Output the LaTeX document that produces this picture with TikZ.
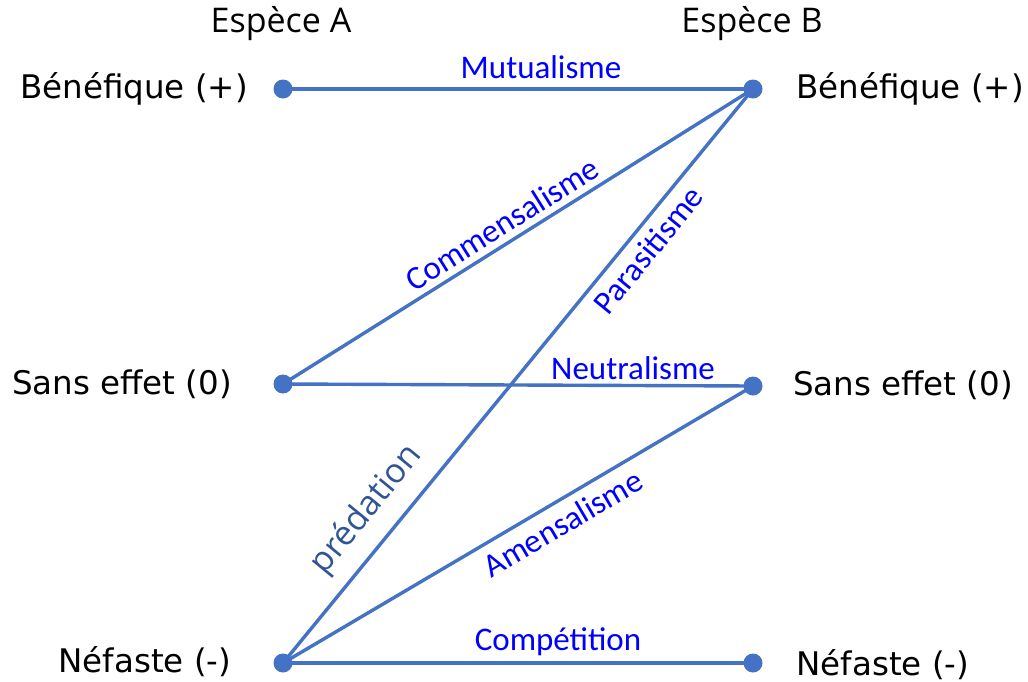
\documentclass[tikz,border=0pt]{standalone}
\usepackage{fontspec}
\newfontfamily\lblfont{DejaVu Sans}
\newfontfamily\relfont{Carlito}
\newfontfamily\headfont{Open Sans}
\definecolor{linec}{HTML}{4472C4}
\definecolor{predc}{HTML}{2F5597}
\tikzset{
  dot/.style={circle,fill=linec,inner sep=0pt,minimum size=19pt},
  rel/.style={draw=linec,line width=3.4pt},
  lvl/.style={font=\lblfont\fontsize{32.5}{36}\selectfont,text=black,inner sep=0pt},
  head/.style={font=\headfont\fontsize{34}{38}\selectfont,text=black,inner sep=0pt},
  rlab/.style={font=\relfont\fontsize{33}{38}\selectfont,text=blue,inner sep=0pt},
}
\begin{document}
\begin{tikzpicture}[x=1pt,y=-1pt]
\useasboundingbox (0,0) rectangle (1028,681);
% dots
\node[dot] (ap) at (283,89) {};
\node[dot] (a0) at (283,384) {};
\node[dot] (am) at (283,663) {};
\node[dot] (bp) at (753,89) {};
\node[dot] (b0) at (753,386) {};
\node[dot] (bm) at (753,663) {};
% connectors
\draw[rel] (ap.center) -- (bp.center);
\draw[rel] (a0.center) -- (bp.center);
\draw[rel] (am.center) -- (bp.center);
\draw[rel] (a0.center) -- (b0.center);
\draw[rel] (am.center) -- (b0.center);
\draw[rel] (am.center) -- (bm.center);
% headings
\node[head] (ha) at (281,24) {Espèce A};
\node[head] (hb) at (752,24) {Espèce B};
% level labels
\node[lvl] (lap) at (134,89) {Bénéfique (+)};
\node[lvl] (la0) at (122,384) {Sans effet (0)};
\node[lvl] (lam) at (145,662) {Néfaste (-)};
\node[lvl] (lbp) at (910,89) {Bénéfique (+)};
\node[lvl] (lb0) at (903,385) {Sans effet (0)};
\node[lvl] (lbm) at (883,665) {Néfaste (-)};
% relation labels
\node[rlab] (mut) at (541,67) {Mutualisme};
\node[rlab,rotate=32.1] (com) at (502,224) {Commensalisme};
\node[rlab,rotate=50.7] (par) at (648,250) {Parasitisme};
\node[rlab] (neu) at (633,368) {Neutralisme};
\node[head,text=predc,rotate=50.7] (pre) at (367,510) {prédation};
\node[rlab,rotate=30.5] (ame) at (563,523) {Amensalisme};
\node[rlab] (cmp) at (558,642) {Compétition};
\end{tikzpicture}
\end{document}
